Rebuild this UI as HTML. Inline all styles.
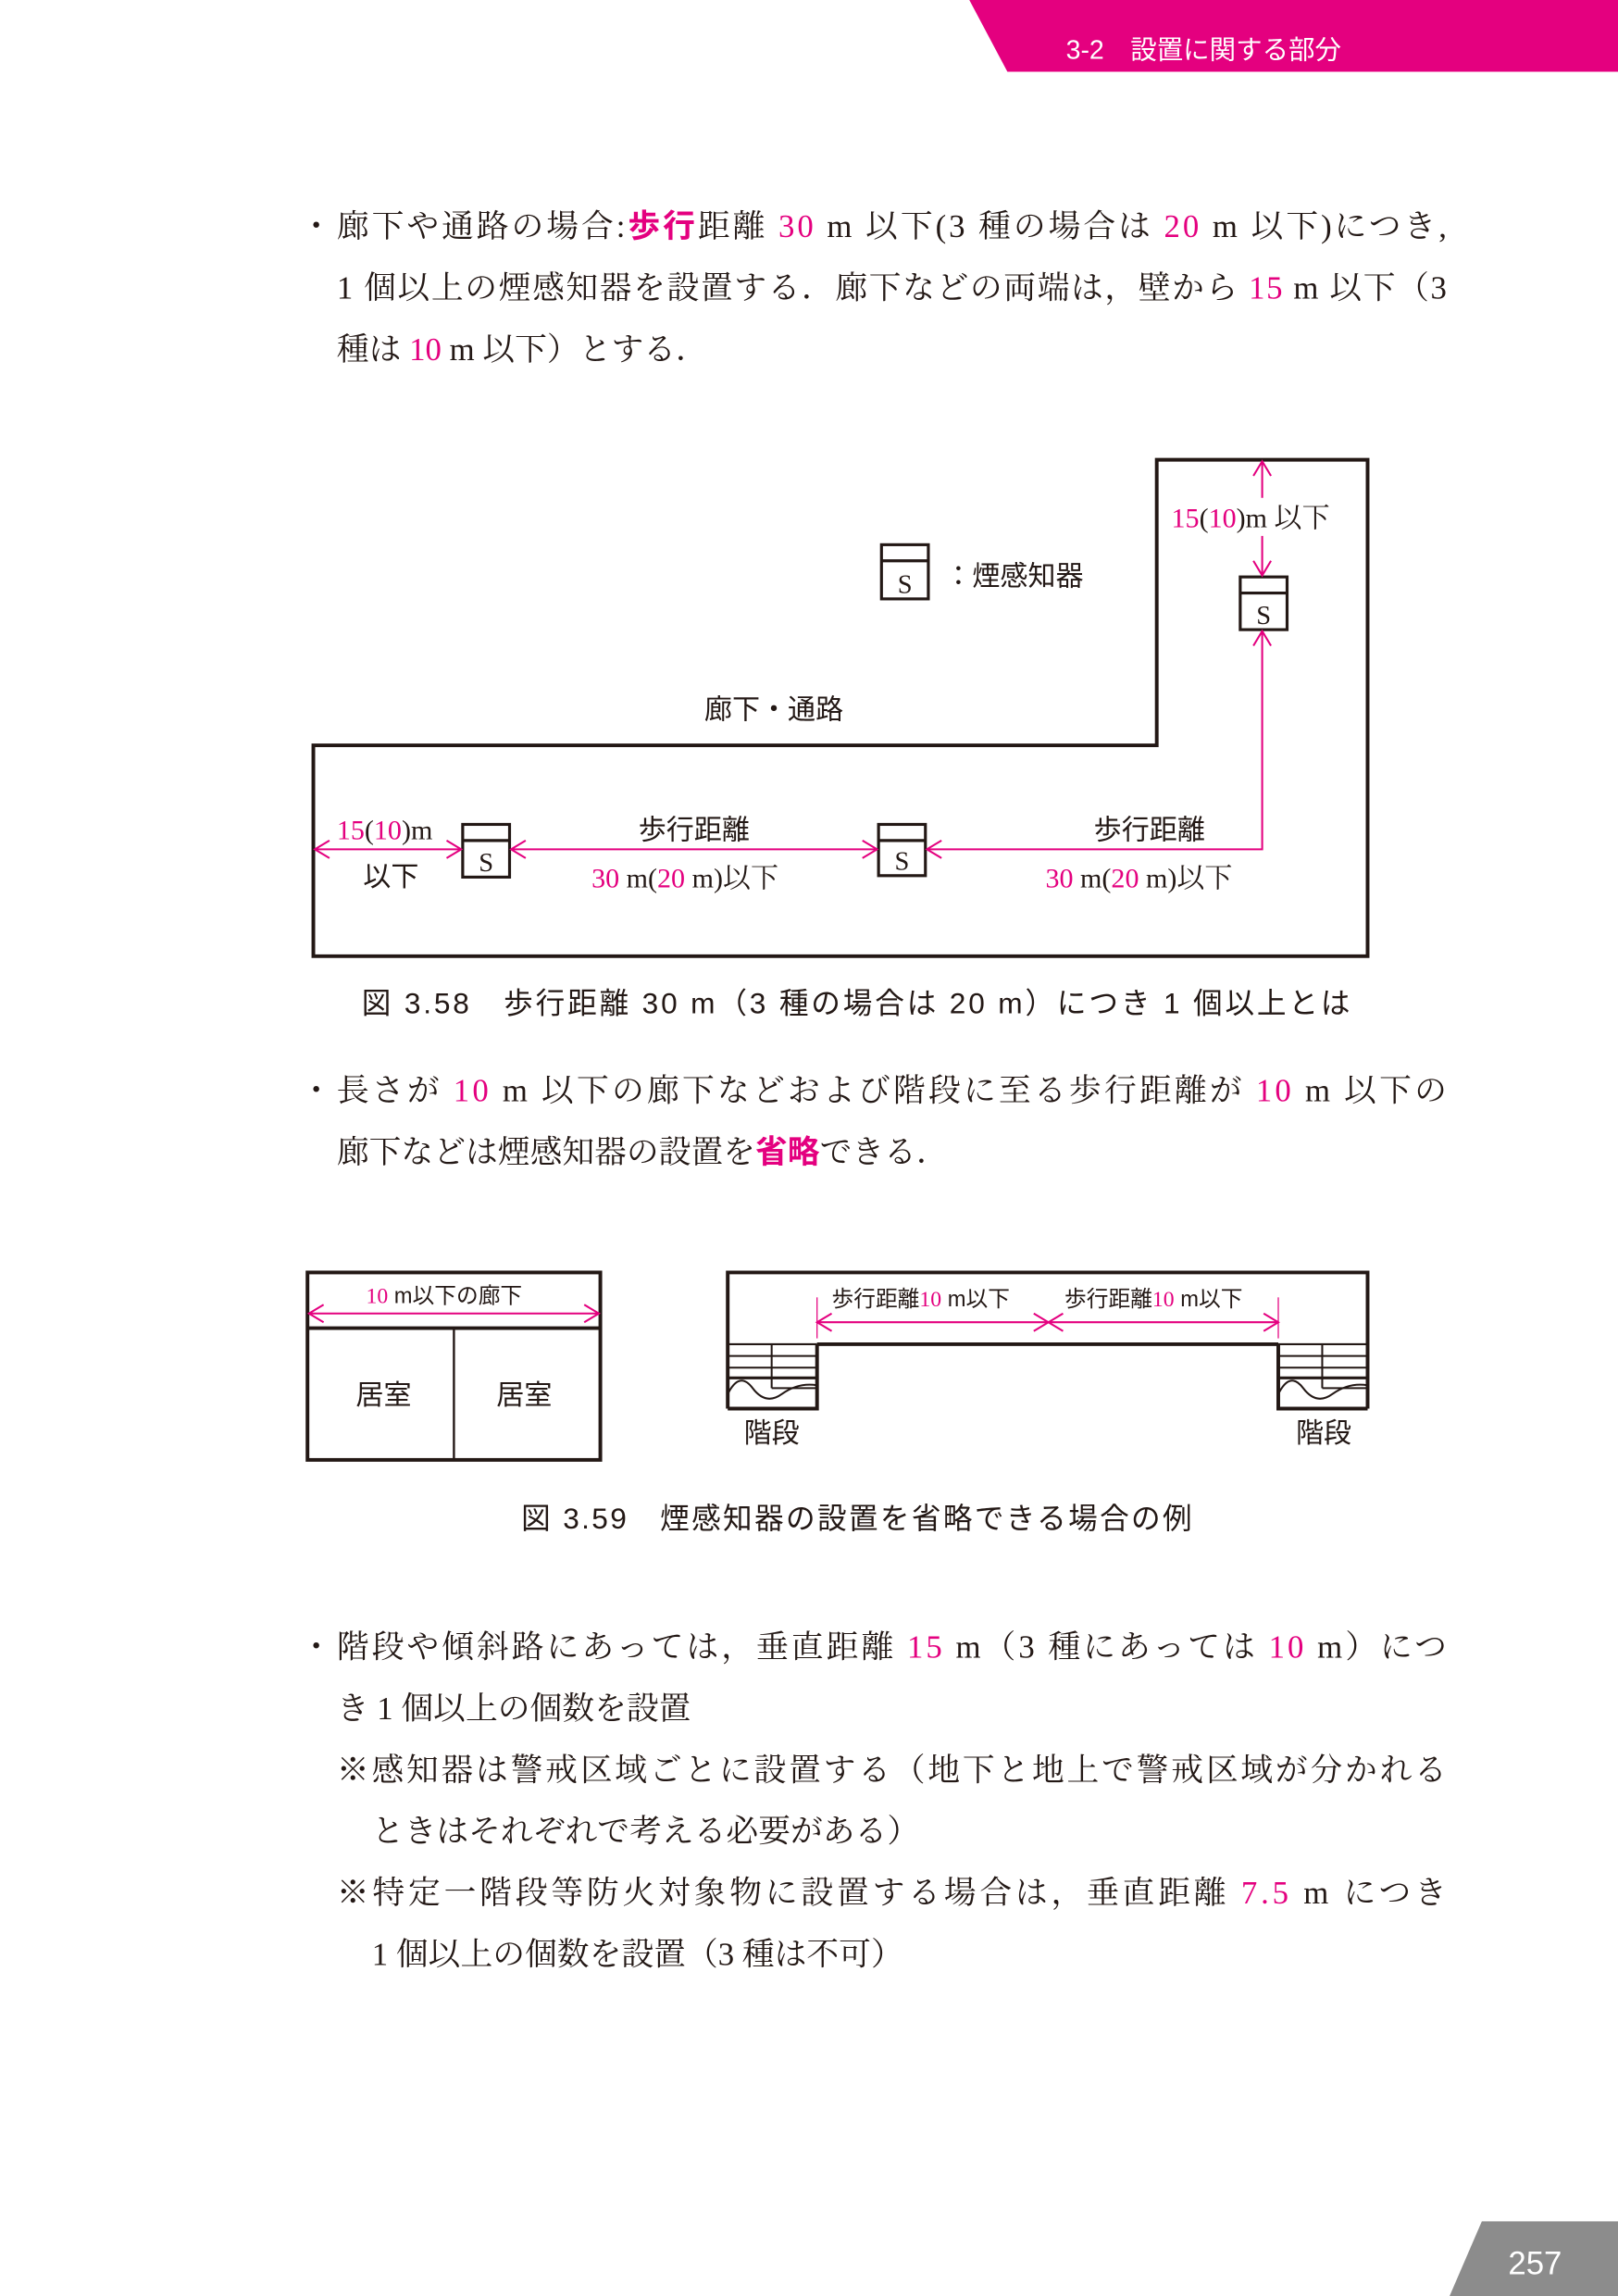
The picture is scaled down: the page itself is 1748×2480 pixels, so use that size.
<!DOCTYPE html>
<html><head><meta charset="utf-8"><style>
html,body{margin:0;padding:0;background:#fff}
svg{display:block}
.s{font-family:"Liberation Serif","Noto Serif CJK JP","Noto Serif CJK SC",serif;fill:#231815}
.g{font-family:"Liberation Sans","Noto Sans CJK JP",sans-serif;fill:#231815}
.p{fill:#e4007f}
</style></head><body>
<svg width="1748" height="2480" viewBox="0 0 1105 1568" preserveAspectRatio="none" xmlns="http://www.w3.org/2000/svg">
<polygon points="662,0 1105,0 1105,49 688,49" fill="#e4007f"/>
<text x="728" y="40" font-size="18" class="g" style="fill:#fff">3-2　設置に関する部分</text>

<g class="s" font-size="22">
<text x="205" y="162">・</text>
<text x="230" y="162" textLength="758" lengthAdjust="spacing">廊下や通路の場合:<tspan class="p" font-weight="bold" font-family="Liberation Sans,Noto Sans CJK JP,sans-serif">歩行</tspan>距離 <tspan class="p">30</tspan> m 以下(3 種の場合は <tspan class="p">20</tspan> m 以下)につき,</text>
<text x="230" y="204" textLength="758" lengthAdjust="spacing">1 個以上の煙感知器を設置する．廊下などの両端は，壁から <tspan class="p">15</tspan> m 以下（3</text>
<text x="230" y="246">種は <tspan class="p">10</tspan> m 以下）とする．</text>
</g>

<!-- Fig 3.58 -->
<polygon points="214,509 790,509 790,314 934,314 934,653 214,653" fill="none" stroke="#231815" stroke-width="2.5"/>
<g fill="#fff" stroke="#231815" stroke-width="2">
<rect x="602" y="372" width="32" height="37"/><line x1="602" y1="383" x2="634" y2="383"/>
<rect x="316" y="563" width="32" height="36"/><line x1="316" y1="574" x2="348" y2="574"/>
<rect x="600" y="563" width="32" height="35"/><line x1="600" y1="574" x2="632" y2="574"/>
<rect x="847" y="394" width="32" height="36"/><line x1="847" y1="405" x2="879" y2="405"/>
</g>
<g class="s" font-size="18" text-anchor="middle">
<text x="618" y="405">S</text><text x="332" y="595">S</text><text x="616" y="594">S</text><text x="863" y="426">S</text>
</g>
<g stroke="#e4007f" stroke-width="1.3" fill="none">
<line x1="215" y1="580" x2="315" y2="580"/>
<polyline points="225,574 215,580 225,586"/><polyline points="305,574 315,580 305,586"/>
<line x1="349" y1="580" x2="599" y2="580"/>
<polyline points="359,574 349,580 359,586"/><polyline points="589,574 599,580 589,586"/>
<polyline points="633,580 862,580 862,431"/>
<polyline points="643,574 633,580 643,586"/><polyline points="856,441 862,431 868,441"/>
<line x1="862" y1="315" x2="862" y2="340"/><line x1="862" y1="366" x2="862" y2="393"/>
<polyline points="856,325 862,315 868,325"/><polyline points="856,383 862,393 868,383"/>
</g>
<g class="s" font-size="19">
<text x="645" y="400" class="g">：煙感知器</text>
<text x="481" y="491" class="g">廊下・通路</text>
<text x="230" y="573"><tspan class="p">15</tspan>(<tspan class="p">10</tspan>)m</text>
<text x="248" y="605" class="g">以下</text>
<text x="436" y="573" class="g">歩行距離</text>
<text x="404" y="606"><tspan class="p">30</tspan> m(<tspan class="p">20</tspan> m)以下</text>
<text x="747" y="573" class="g">歩行距離</text>
<text x="714" y="606"><tspan class="p">30</tspan> m(<tspan class="p">20</tspan> m)以下</text>
<text x="800" y="360"><tspan class="p">15</tspan>(<tspan class="p">10</tspan>)m 以下</text>
</g>
<text x="247" y="692" class="g" font-size="20" textLength="675" lengthAdjust="spacing">図 3.58　歩行距離 30 m（3 種の場合は 20 m）につき 1 個以上とは</text>

<g class="s" font-size="22">
<text x="205" y="752">・</text>
<text x="230" y="752" textLength="758" lengthAdjust="spacing">長さが <tspan class="p">10</tspan> m 以下の廊下などおよび階段に至る歩行距離が <tspan class="p">10</tspan> m 以下の</text>
<text x="230" y="794">廊下などは煙感知器の設置を<tspan class="p" font-weight="bold" font-family="Liberation Sans,Noto Sans CJK JP,sans-serif">省略</tspan>できる．</text>
</g>

<!-- Fig 3.59 -->
<g fill="none" stroke="#231815" stroke-width="2.5">
<rect x="210" y="869" width="200" height="128"/>
<line x1="210" y1="907" x2="410" y2="907"/>
<line x1="310" y1="907" x2="310" y2="997" stroke-width="1.5"/>
<polyline points="497,962 497,869 934,869 934,962"/>
<line x1="558" y1="918" x2="873" y2="918"/>
<polyline points="497,962 558,962 558,918"/>
<polyline points="934,962 873,962 873,918"/>
</g>
<g fill="none" stroke="#231815" stroke-width="1.3">
<line x1="497" y1="918" x2="558" y2="918"/><line x1="497" y1="926" x2="558" y2="926"/><line x1="497" y1="934" x2="558" y2="934"/>
<line x1="497" y1="941" x2="558" y2="941" stroke-width="2"/><line x1="530" y1="941" x2="558" y2="941"/>
<line x1="527" y1="918" x2="527" y2="948"/><line x1="527" y1="948" x2="558" y2="948"/>
<path d="M497,952 Q505,936 514,948 T534,952 T558,946"/>
<line x1="873" y1="918" x2="934" y2="918"/><line x1="873" y1="926" x2="934" y2="926"/><line x1="873" y1="934" x2="934" y2="934"/>
<line x1="873" y1="941" x2="934" y2="941" stroke-width="2"/>
<line x1="903" y1="918" x2="903" y2="948"/><line x1="903" y1="948" x2="934" y2="948"/>
<path d="M873,952 Q881,936 890,948 T910,952 T934,946"/>
</g>
<g stroke="#e4007f" stroke-width="1.3" fill="none">
<line x1="211" y1="897" x2="409" y2="897"/>
<polyline points="221,891 211,897 221,903"/><polyline points="399,891 409,897 399,903"/>
<line x1="558" y1="903" x2="873" y2="903"/>
<line x1="558" y1="886" x2="558" y2="914" stroke-width="0.8"/><line x1="873" y1="886" x2="873" y2="914" stroke-width="0.8"/>
<polyline points="568,897 558,903 568,909"/><polyline points="863,897 873,903 863,909"/>
<polyline points="706,897 716,903 706,909"/><polyline points="726,897 716,903 726,909"/>
</g>
<g class="g" font-size="15">
<text x="250" y="890"><tspan class="p" font-family="Liberation Serif,serif">10</tspan> m以下の廊下</text>
<text x="568" y="892">歩行距離<tspan class="p" font-family="Liberation Serif,serif">10</tspan> m以下</text>
<text x="727" y="892">歩行距離<tspan class="p" font-family="Liberation Serif,serif">10</tspan> m以下</text>
</g>
<g class="g" font-size="19">
<text x="243" y="959">居室</text><text x="339" y="959">居室</text>
<text x="508" y="985">階段</text><text x="885" y="985">階段</text>
</g>
<text x="356" y="1044" class="g" font-size="20" textLength="458" lengthAdjust="spacing">図 3.59　煙感知器の設置を省略できる場合の例</text>

<g class="s" font-size="22">
<text x="205" y="1132">・</text>
<text x="230" y="1132" textLength="758" lengthAdjust="spacing">階段や傾斜路にあっては，垂直距離 <tspan class="p">15</tspan> m（3 種にあっては <tspan class="p">10</tspan> m）につ</text>
<text x="230" y="1174">き 1 個以上の個数を設置</text>
<text x="230" y="1216" textLength="758" lengthAdjust="spacing">※感知器は警戒区域ごとに設置する（地下と地上で警戒区域が分かれる</text>
<text x="254" y="1258">ときはそれぞれで考える必要がある）</text>
<text x="230" y="1300" textLength="758" lengthAdjust="spacing">※特定一階段等防火対象物に設置する場合は，垂直距離 <tspan class="p">7.5</tspan> m につき</text>
<text x="254" y="1342">1 個以上の個数を設置（3 種は不可）</text>
</g>

<polygon points="1012,1517 1105,1517 1105,1568 990,1568" fill="#8c8c8c"/>
<text x="1030" y="1553" class="g" font-size="22" style="fill:#fff">257</text>
</svg>
</body></html>
